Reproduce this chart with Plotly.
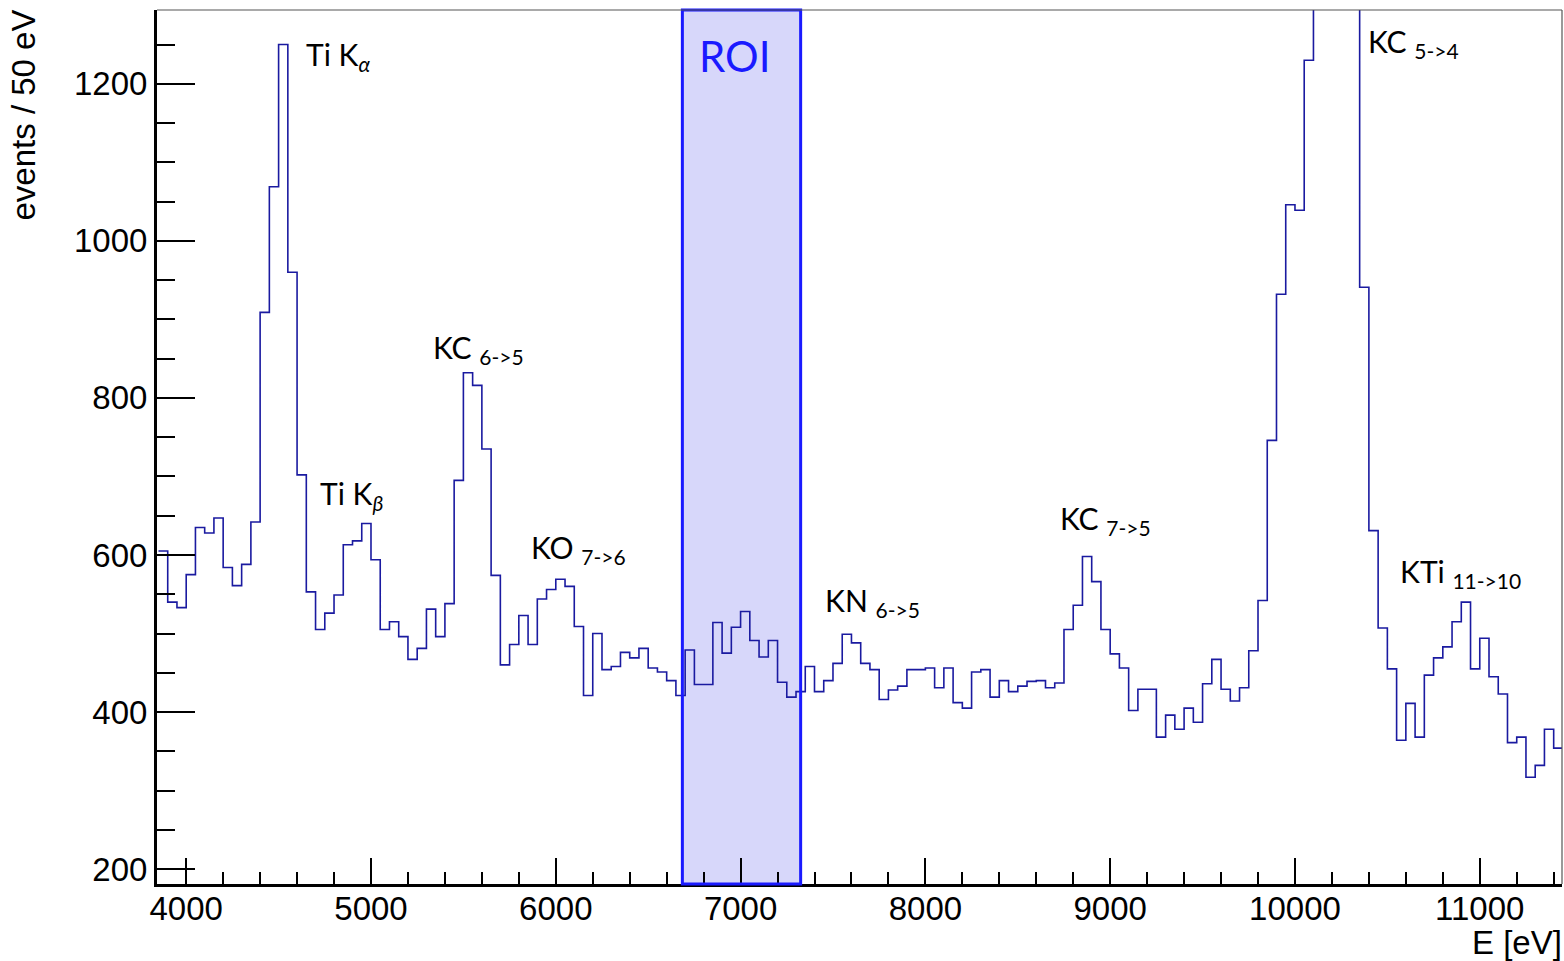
import plotly.graph_objects as go

# ---------------- data ----------------
bin_start = 3850          # left edge of first bin (eV)
bin_width = 50            # eV
counts = [
    605, 540, 533, 575, 635, 628, 647, 584, 561, 588,   # 3850-4300
    642, 909, 1069, 1250, 960, 702, 553, 505, 526, 549, # 4350-4800
    613, 618, 640, 594, 505, 515, 496, 467, 481, 531,   # 4850-5300
    496, 538, 695, 832, 816, 735, 574, 460, 486, 523,   # 5350-5800
    486, 544, 556, 569, 560, 509, 421, 500, 454, 458,   # 5850-6300
    476, 469, 481, 456, 451, 440, 421, 479, 435, 435,   # 6350-6800
    514, 475, 508, 528, 491, 470, 491, 438, 419, 426,   # 6850-7300
    458, 426, 440, 462, 499, 488, 462, 454, 416, 428,   # 7350-7800
    433, 454, 454, 456, 431, 456, 412, 405, 451, 454,   # 7850-8300
    419, 440, 426, 433, 439, 440, 431, 437, 505, 536,   # 8350-8800
    598, 566, 505, 474, 456, 402, 429, 429, 368, 396,   # 8850-9300
    378, 405, 387, 436, 467, 429, 414, 431, 478, 542,   # 9350-9800
    746, 932, 1046, 1039, 1230, 1450, 1800, 2000, 1850, 1500,  # 9850-10300
    941, 631, 507, 455, 364, 411, 368, 447, 469, 483,   # 10350-10800
    515, 540, 455, 494, 445, 423, 361, 368, 317, 332,   # 10850-11300
    378, 354,                                           # 11350-11400
]

roi = [6685, 7325]
x_range = [3842, 11445]
y_range = [181, 1294]
x_ticks = [4000, 5000, 6000, 7000, 8000, 9000, 10000, 11000]
y_ticks = [200, 400, 600, 800, 1000, 1200]

labels = [
    ("Ti K<sub><i>α</i></sub>", 4659, 1236),
    ("Ti K<sub><i>β</i></sub>", 4736, 676),
    ("KC <sub>6-&gt;5</sub>", 5344, 862),
    ("KO <sub>7-&gt;6</sub>", 5875, 607),
    ("KN <sub>6-&gt;5</sub>", 7469, 540),
    ("KC <sub>7-&gt;5</sub>", 8738, 644),
    ("KC <sub>5-&gt;4</sub>", 10408, 1252),
    ("KTi <sub>11-&gt;10</sub>", 10581, 577),
]
roi_label = ("ROI", 6786, 1233)

# ---------------- figure ----------------
edges = [bin_start + i * bin_width for i in range(len(counts) + 1)]
xs = edges
ys = counts + [counts[-1]]

fig = go.Figure()
fig.add_trace(go.Scatter(
    x=xs, y=ys, mode="lines", line=dict(shape="hv", color="#1a1aa0", width=1.6),
    hoverinfo="skip", showlegend=False, cliponaxis=True,
))

# ROI fill (below) and border (above)
fig.add_shape(type="rect", xref="x", yref="paper", x0=roi[0], x1=roi[1], y0=0, y1=1,
              fillcolor="#d7d7fa", line=dict(width=0), layer="below")
fig.add_shape(type="rect", xref="x", yref="paper", x0=roi[0], x1=roi[1], y0=0, y1=1,
              fillcolor="rgba(0,0,0,0)", line=dict(color="#1a1aff", width=3), layer="above")

# thin frame top/right
fig.add_shape(type="line", xref="paper", yref="paper", x0=0, x1=1, y0=1, y1=1,
              line=dict(color="#555555", width=1.2))
fig.add_shape(type="line", xref="paper", yref="paper", x0=1, x1=1, y0=0, y1=1,
              line=dict(color="#555555", width=1.2))

lab_font = dict(family="Lato, Open Sans, sans-serif", size=30, color="black")
for txt, xv, yv in labels:
    fig.add_annotation(text=txt, x=xv, y=yv, xref="x", yref="y", xanchor="left",
                       yanchor="middle", xshift=-4, showarrow=False, font=lab_font)
fig.add_annotation(text=roi_label[0], x=roi_label[1], y=roi_label[2], xref="x", yref="y",
                   xanchor="left", yanchor="middle", xshift=-4, yshift=2, showarrow=False,
                   font=dict(family="Lato, Open Sans, sans-serif", size=42, color="#1a1aff"))

axis_font = dict(family="Liberation Sans, Arial, sans-serif", size=33, color="black")
fig.add_annotation(text="events / 50 eV", xref="paper", yref="paper", x=0, y=1,
                   xanchor="center", yanchor="top", xshift=-134, yshift=2, textangle=-90,
                   showarrow=False, font=axis_font)
fig.add_annotation(text="E [eV]", xref="paper", yref="paper", x=1, y=0,
                   xanchor="right", yanchor="top", yshift=-38, xshift=2,
                   showarrow=False, font=axis_font)

fig.update_xaxes(
    range=x_range, tickvals=x_ticks, ticktext=[str(v) for v in x_ticks],
    ticks="inside", ticklen=26, tickwidth=1.5, tickcolor="black",
    minor=dict(ticks="inside", ticklen=12, dtick=200, tick0=4000, tickwidth=1.5, tickcolor="black"),
    showline=True, linewidth=3, linecolor="black", mirror=False,
    showgrid=False, zeroline=False, tickfont=axis_font, ticklabelstandoff=-7,
)
fig.update_yaxes(
    range=y_range, tickvals=y_ticks, ticktext=[str(v) for v in y_ticks],
    ticks="inside", ticklen=38, tickwidth=1.5, tickcolor="black",
    minor=dict(ticks="inside", ticklen=18, dtick=50, tick0=200, tickwidth=1.5, tickcolor="black"),
    showline=True, linewidth=3, linecolor="black", mirror=False,
    showgrid=False, zeroline=False, tickfont=axis_font,
)

fig.update_layout(
    width=1564, height=961,
    margin=dict(l=157, r=2, t=10, b=77),
    plot_bgcolor="white", paper_bgcolor="white",
    showlegend=False,
)

fig.write_html("out.html")
